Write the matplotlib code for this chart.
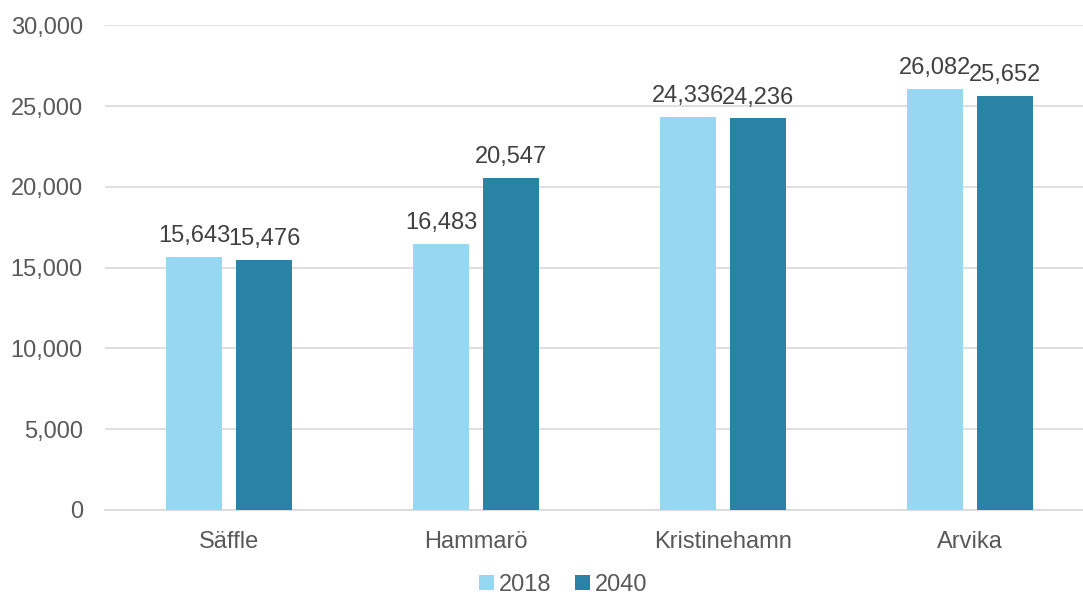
import numpy as np
import matplotlib.pyplot as plt
from matplotlib.ticker import FuncFormatter

plt.rcParams['font.family'] = ['Liberation Sans', 'DejaVu Sans']

# data
kommuner = ['Säffle', 'Hammarö', 'Kristinehamn', 'Arvika']
v2018 = [15643, 16483, 24336, 26082]
v2040 = [15476, 20547, 24236, 25652]
series_labels = ['2018', '2040']

c_light = '#97D7F1'
c_dark = '#2A82A4'

fig = plt.figure(figsize=(10.83, 6.02), dpi=100)
ax = fig.add_axes([0.097, 0.153, 0.903, 0.805])

x = np.arange(len(kommuner))
w = 0.227
off = 0.142
b1 = ax.bar(x - off, v2018, w, color=c_light, label=series_labels[0], zorder=3)
b2 = ax.bar(x + off, v2040, w, color=c_dark, label=series_labels[1], zorder=3)

for bars in (b1, b2):
    for r in bars:
        ax.annotate(f'{int(r.get_height()):,}',
                    (r.get_x() + r.get_width() / 2, r.get_height()),
                    xytext=(0, 7), textcoords='offset points',
                    ha='center', va='bottom', fontsize=17, color='#404040')

ax.set_ylim(0, 30000)
ax.set_yticks(range(0, 30001, 5000))
ax.yaxis.set_major_formatter(FuncFormatter(lambda v, p: f'{int(v):,}'))
ax.set_xlim(-0.502, 3.457)
ax.set_xticks(x)
ax.set_xticklabels(kommuner)
ax.tick_params(axis='both', length=0, labelsize=17, labelcolor='#595959')
ax.tick_params(axis='x', pad=15)
ax.tick_params(axis='y', pad=16)
ax.grid(axis='y', color='#D9D9D9', linewidth=1.2, zorder=0)
for s in ['top', 'right', 'left']:
    ax.spines[s].set_visible(False)
ax.spines['bottom'].set_color('#D9D9D9')
ax.spines['bottom'].set_linewidth(1.2)

fig.legend(loc='lower center', bbox_to_anchor=(0.52, -0.025), ncol=2, frameon=False,
           fontsize=17, labelcolor='#595959', handlelength=0.65, handleheight=0.65,
           handletextpad=0.2, columnspacing=1.0)

fig.savefig('out.png', dpi=100)
